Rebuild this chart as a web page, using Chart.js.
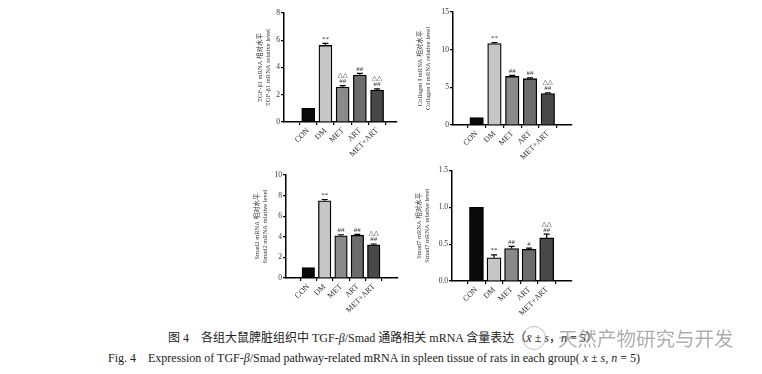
<!DOCTYPE html>
<html lang="zh">
<head>
<meta charset="utf-8">
<script src="https://cdn.jsdelivr.net/npm/chart.js@4.4.1/dist/chart.umd.min.js"></script>
<style>
  body { margin:0; width:762px; height:374px; background:#fff; position:relative; overflow:hidden; }
  canvas { position:absolute; }
  .cap { position:absolute; font-family:'Liberation Serif','Noto Sans CJK SC',serif; color:#222; white-space:nowrap; }
  .wm { position:absolute; left:558px; top:323px; font-family:'Noto Sans CJK SC',sans-serif; font-size:19.5px; color:rgba(140,140,140,0.7); white-space:nowrap; }
  .wmicon { position:absolute; left:522px; top:326px; width:22px; height:22px; border:1px solid rgba(150,150,150,0.6); border-radius:50%; }
</style>
</head>
<body>
<canvas id="c1" style="left:250px;top:0px" width="160" height="170"></canvas>
<canvas id="c2" style="left:400px;top:0px" width="180" height="170"></canvas>
<canvas id="c3" style="left:250px;top:165px" width="160" height="160"></canvas>
<canvas id="c4" style="left:400px;top:165px" width="180" height="160"></canvas>

<div class="cap" style="left:168px;top:328px;font-size:12px">图 4&nbsp;&nbsp;&nbsp;&nbsp;各组大鼠脾脏组织中 TGF-<i>β</i>/Smad 通路相关 mRNA 含量表达（<i>x̄</i> ± <i>s</i>，<i>n</i> = 5）</div>
<div class="cap" style="left:108px;top:351px;font-size:12px">Fig. 4&nbsp;&nbsp;&nbsp;&nbsp;Expression of TGF-<i>β</i>/Smad pathway-related mRNA in spleen tissue of rats in each group( <i>x</i> ± <i>s</i>, <i>n</i> = 5)</div>
<div class="wmicon"></div>
<div class="wm">天然产物研究与开发</div>

<script>
// groups
var groups = ['CON', 'DM', 'MET', 'ART', 'MET+ART'];
var barColors = ['#0a0a0a', '#c6c6c6', '#8a8a8a', '#6c6c6c', '#484848'];

// TGF-beta1
var tgfVals = [1.0, 5.62, 2.57, 3.45, 2.35];
var tgfErr  = [0, 0.15, 0.1, 0.12, 0.08];
var tgfMark = ['', '**', '##', '##', '##'];
var tgfMark2 = ['', '', '△△', '', '△△'];
var tgfTicks = [0, 2, 4, 6, 8];

// Collagen I
var colVals = [1.0, 10.8, 6.45, 6.15, 4.17];
var colErr  = [0, 0.15, 0.15, 0.1, 0.1];
var colMark = ['', '**', '##', '##', '##'];
var colMark2 = ['', '', '', '', '△△'];
var colTicks = [0, 5, 10, 15];

// Smad2
var s2Vals = [1.0, 7.5, 4.1, 4.15, 3.22];
var s2Err  = [0, 0.12, 0.1, 0.08, 0.08];
var s2Mark = ['', '**', '##', '##', '##'];
var s2Mark2 = ['', '', '', '', '△△'];
var s2Ticks = [0, 2, 4, 6, 8, 10];

// Smad7
var s7Vals = [1.0, 0.315, 0.44, 0.43, 0.585];
var s7Err  = [0, 0.04, 0.03, 0.015, 0.05];
var s7Mark = ['', '**', '##', '#', '##'];
var s7Mark2 = ['', '', '', '', '△△'];
var s7Ticks = [0, 0.5, 1.0, 1.5];

var serif = "'Liberation Serif','Noto Sans CJK SC',serif";

// error bars (upper whisker) + significance marks
var extras = {
  id: 'extras',
  afterDatasetsDraw: function(chart) {
    var ctx = chart.ctx, xs = chart.scales.x, ys = chart.scales.y;
    var cfg = chart.options.plugins.extras;
    ctx.save();
    ctx.strokeStyle = '#000';
    ctx.lineWidth = 1.2;
    ctx.fillStyle = '#333';
    ctx.textAlign = 'center';
    ctx.textBaseline = 'bottom';
    cfg.vals.forEach(function(v, i) {
      var x = xs.getPixelForValue(i);
      var top = ys.getPixelForValue(v + cfg.err[i]);
      if (cfg.err[i] > 0) {
        ctx.beginPath();
        ctx.moveTo(x, ys.getPixelForValue(v));
        ctx.lineTo(x, top);
        ctx.moveTo(x - 3, top);
        ctx.lineTo(x + 3, top);
        ctx.stroke();
      }
      ctx.font = '7px ' + serif;
      if (cfg.mark[i]) ctx.fillText(cfg.mark[i], x, top - 1);
      ctx.font = '6.5px DejaVu Sans';
      if (cfg.mark2[i]) ctx.fillText(cfg.mark2[i], x, top - 7);
    });
    ctx.restore();
  }
};

function makeChart(id, vals, err, mark, mark2, ticks, title, box) {
  var pts = vals.map(function(v, i) { return { x: i, y: v }; });
  new Chart(document.getElementById(id), {
    type: 'bar',
    data: {
      datasets: [{
        data: pts,
        backgroundColor: barColors,
        borderColor: '#000',
        borderWidth: 1.3,
        barThickness: box.bw
      }]
    },
    options: {
      responsive: false,
      animation: false,
      layout: { padding: { left: box.padL, right: box.padR, top: box.top, bottom: 0 } },
      plugins: {
        legend: { display: false },
        tooltip: { enabled: false },
        extras: { vals: vals, err: err, mark: mark, mark2: mark2 }
      },
      scales: {
        x: {
          type: 'linear',
          min: box.xmin,
          max: box.xmax,
          afterBuildTicks: function(s) { s.ticks = groups.map(function(g, i) { return { value: i }; }); },
          afterFit: function(s) { s.height = box.xh; },
          border: { color: '#000', width: 1.5 },
          grid: { drawOnChartArea: false, drawTicks: true, tickLength: 3, color: '#000', lineWidth: 1.2 },
          ticks: {
            autoSkip: false, minRotation: 45, maxRotation: 45, padding: 1,
            color: '#333', font: { family: serif, size: 8 },
            callback: function(v) { return groups[v]; }
          }
        },
        y: {
          min: ticks[0],
          max: ticks[ticks.length - 1],
          afterBuildTicks: function(s) { s.ticks = ticks.map(function(t) { return { value: t }; }); },
          afterFit: function(s) { s.width = box.yw; },
          border: { color: '#000', width: 1.5 },
          grid: { drawOnChartArea: false, drawTicks: true, tickLength: 3, color: '#000', lineWidth: 1.2 },
          ticks: {
            padding: 1, color: '#333', font: { family: serif, size: 7.5 },
            callback: function(v) { return box.dec ? v.toFixed(1) : v; }
          },
          title: {
            display: true, text: title, color: '#333', padding: 0,
            font: { family: serif, size: 6.5, lineHeight: 1.15 }
          }
        }
      }
    },
    plugins: [extras]
  });
}

makeChart('c1', tgfVals, tgfErr, tgfMark, tgfMark2, tgfTicks,
  ['TGF-β1 mRNA 相对水平', 'TGF-β1 mRNA relative level'],
  { padL: 7, yw: 27, padR: 13, top: 13, xh: 48, xmin: -0.75, xmax: 4.5, bw: 13 });
makeChart('c2', colVals, colErr, colMark, colMark2, colTicks,
  ['Collagen I mRNA 相对水平', 'Collagen I mRNA relative level'],
  { padL: 17, yw: 36, padR: 8, top: 12, xh: 45, xmin: -0.66, xmax: 4.69, bw: 13.5 });
makeChart('c3', s2Vals, s2Err, s2Mark, s2Mark2, s2Ticks,
  ['Smad2 mRNA 相对水平', 'Smad2 mRNA relative level'],
  { padL: 4, yw: 32, padR: 12, top: 10, xh: 47, xmin: -0.68, xmax: 4.8, bw: 12.5 });
makeChart('c4', s7Vals, s7Err, s7Mark, s7Mark2, s7Ticks,
  ['Smad7 mRNA 相对水平', 'Smad7 mRNA relative level'],
  { padL: 16, yw: 36, padR: 8, top: 5, xh: 44, xmin: -0.71, xmax: 4.76, dec: true, bw: 14 });
</script>
</body>
</html>
